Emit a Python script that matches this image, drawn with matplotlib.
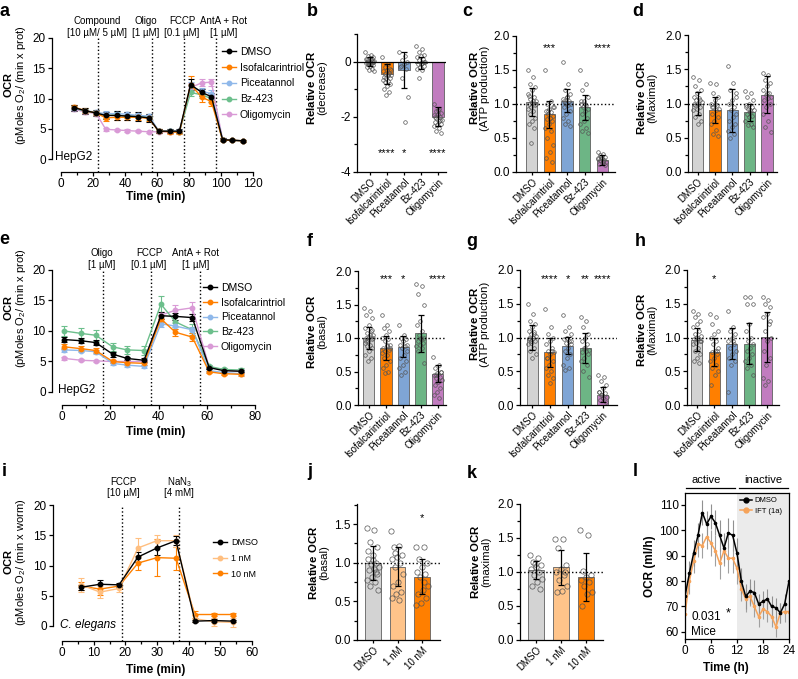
import matplotlib
matplotlib.use('Agg')
import matplotlib.pyplot as plt
from matplotlib.lines import Line2D
from matplotlib.ticker import FormatStrFormatter
import numpy as np

plt.rcParams['font.family'] = ['Liberation Sans', 'DejaVu Sans']
plt.rcParams['mathtext.fontset'] = 'custom'
plt.rcParams['mathtext.rm'] = 'Liberation Sans'
plt.rcParams['mathtext.bf'] = 'Liberation Sans:bold'
plt.rcParams['mathtext.default'] = 'regular'
plt.rcParams['axes.unicode_minus'] = False
plt.rcParams['axes.linewidth'] = 0.9

# ---------------- data ----------------
GROUPS = ['DMSO', 'Isofalcarintriol', 'Piceatannol', 'Bz-423', 'Oligomycin']
GROUPS_W = ['DMSO', '1 nM', '10 nM']

# panel a: HepG2 time course (compound injected first)
t_a = [8, 15, 22, 28, 35, 41, 48, 55, 61, 68, 74, 81, 88, 94, 101, 107, 114]
a_dmso = [8.5, 8.0, 7.6, 7.2, 7.2, 7.1, 7.0, 6.8, 4.6, 4.6, 4.6, 12.3, 11.0, 10.3, 3.2, 3.1, 3.0]
a_iso = [8.6, 8.0, 7.6, 6.8, 6.9, 6.9, 6.9, 6.7, 4.6, 4.5, 4.4, 12.3, 10.2, 9.5, 3.1, 3.1, 3.0]
a_pic = [8.4, 8.0, 7.7, 7.5, 7.5, 7.4, 7.2, 7.1, 4.7, 4.6, 4.6, 12.0, 11.2, 10.8, 3.2, 3.1, 3.0]
a_bz = [8.4, 7.9, 7.6, 7.2, 7.3, 7.1, 7.1, 6.9, 4.6, 4.6, 4.5, 11.0, 10.6, 10.0, 3.1, 3.1, 3.0]
a_oli = [8.2, 7.8, 7.5, 4.9, 4.8, 4.7, 4.6, 4.5, 4.5, 4.5, 4.5, 11.8, 12.6, 12.7, 3.2, 3.1, 3.0]
a_dmso_e = [0.5, 0.5, 0.5, 0.6, 0.7, 0.7, 0.7, 0.7, 0.3, 0.3, 0.3, 0.9, 0.6, 0.6, 0.3, 0.2, 0.2]
a_iso_e = [0.4, 0.4, 0.4, 0.5, 0.5, 0.5, 0.5, 0.5, 0.3, 0.3, 0.3, 1.4, 0.8, 0.8, 0.2, 0.2, 0.2]
a_pic_e = [0.3, 0.3, 0.3, 0.4, 0.4, 0.4, 0.4, 0.4, 0.2, 0.2, 0.2, 0.8, 0.5, 0.6, 0.2, 0.2, 0.2]
a_bz_e = [0.3, 0.3, 0.3, 0.4, 0.4, 0.4, 0.4, 0.4, 0.2, 0.2, 0.2, 0.6, 0.5, 0.5, 0.2, 0.2, 0.2]
a_oli_e = [0.3, 0.3, 0.3, 0.2, 0.2, 0.2, 0.2, 0.2, 0.2, 0.2, 0.2, 0.8, 0.6, 0.6, 0.2, 0.2, 0.2]

# panel e: HepG2 time course (pre-treated)
t_e = [1, 8, 14, 21, 27, 34, 41, 47, 54, 61, 67, 74]
e_dmso = [8.6, 8.4, 8.1, 6.2, 5.5, 5.2, 12.5, 12.4, 12.2, 4.0, 3.5, 3.4]
e_iso = [7.4, 7.1, 6.8, 5.0, 4.8, 4.7, 12.0, 9.8, 9.0, 3.3, 3.0, 2.9]
e_pic = [6.9, 6.8, 6.6, 4.7, 4.4, 4.2, 11.2, 10.8, 10.2, 3.5, 3.2, 3.0]
e_bz = [10.0, 9.6, 9.3, 7.4, 6.9, 6.8, 14.4, 11.5, 10.2, 4.2, 3.7, 3.6]
e_oli = [5.5, 5.2, 5.1, 5.0, 5.0, 5.0, 12.6, 13.4, 13.8, 4.1, 3.6, 3.4]
e_dmso_e = [0.4, 0.4, 0.4, 0.4, 0.3, 0.3, 0.6, 0.6, 0.6, 0.3, 0.2, 0.2]
e_iso_e = [0.4, 0.4, 0.4, 0.3, 0.3, 0.3, 0.6, 0.6, 0.6, 0.2, 0.2, 0.2]
e_pic_e = [0.3, 0.3, 0.3, 0.3, 0.3, 0.3, 0.5, 0.5, 0.5, 0.2, 0.2, 0.2]
e_bz_e = [0.9, 0.9, 0.9, 0.7, 0.7, 0.7, 1.3, 0.9, 0.9, 0.3, 0.3, 0.3]
e_oli_e = [0.3, 0.2, 0.2, 0.2, 0.2, 0.2, 0.5, 0.8, 1.0, 0.3, 0.3, 0.3]

# panel i: C. elegans time course
t_i = [6, 12, 18, 24, 30, 36, 42, 48, 54]
i_dmso = [6.4, 6.9, 6.8, 11.4, 12.9, 14.1, 0.8, 0.9, 0.8]
i_1nm = [6.8, 5.6, 6.2, 12.9, 14.1, 14.1, 1.2, 0.7, 0.6]
i_10nm = [6.6, 6.1, 6.6, 10.4, 11.3, 11.2, 1.9, 1.9, 1.9]
i_dmso_e = [0.4, 0.7, 0.3, 0.8, 1.2, 0.7, 0.2, 0.3, 0.2]
i_1nm_e = [1.2, 1.0, 0.5, 1.7, 1.0, 1.0, 0.6, 0.7, 0.7]
i_10nm_e = [0.6, 0.9, 0.3, 1.2, 3.0, 1.9, 0.5, 0.3, 0.3]

# panel b: relative OCR decrease
b_mean = [0.0, -0.45, -0.3, -0.05, -2.0]
b_sd = [0.15, 0.35, 0.65, 0.2, 0.35]
b_pts = [
    [0.35, 0.25, 0.2, 0.15, 0.12, 0.1, 0.08, 0.05, 0.03, 0.0, 0.0, -0.02, -0.05, -0.05, -0.08,
     -0.1, -0.12, -0.15, -0.2, -0.25, -0.3, -0.35, 0.05, 0.1, -0.03],
    [0.15, -0.1, -0.2, -0.25, -0.3, -0.35, -0.4, -0.45, -0.5, -0.5, -0.55, -0.6, -0.6, -0.65,
     -0.7, -0.75, -0.8, -0.9, -1.0, -1.1, -1.2, -0.3, -0.45],
    [0.35, 0.2, 0.05, 0.0, -0.1, -0.2, -0.25, -0.6, -1.3, -2.2, -0.15],
    [0.55, 0.45, 0.35, 0.25, 0.2, 0.15, 0.1, 0.05, 0.0, -0.05, -0.1, -0.15, -0.2, -0.25, -0.3,
     -0.6, 0.0, -0.1],
    [-1.55, -1.7, -1.8, -1.85, -1.9, -1.95, -2.0, -2.05, -2.1, -2.15, -2.2, -2.25, -2.3, -2.35,
     -2.4, -2.5, -2.6, -1.75, -2.0, -2.1],
]
b_stars = ['', '****', '*', '', '****']

# panel c: ATP production (acute)
c_mean = [1.03, 0.85, 1.05, 0.95, 0.18]
c_sd = [0.21, 0.2, 0.17, 0.18, 0.07]
c_pts = [
    [1.5, 1.4, 1.3, 1.25, 1.2, 1.15, 1.1, 1.08, 1.05, 1.02, 1.0, 0.98, 0.95, 0.92, 0.9, 0.85,
     0.8, 0.75, 0.7, 0.65, 0.42, 1.0, 1.05, 1.12],
    [1.5, 1.05, 1.0, 0.95, 0.92, 0.9, 0.88, 0.85, 0.82, 0.8, 0.78, 0.75, 0.7, 0.65, 0.6, 0.5,
     0.4, 0.3, 0.2, 0.15, 0.9, 0.95],
    [1.62, 1.3, 1.2, 1.15, 1.1, 1.08, 1.05, 1.02, 1.0, 0.98, 0.95, 0.9, 0.85, 0.8, 0.75, 0.7,
     0.68, 1.1, 1.05],
    [1.5, 1.3, 1.2, 1.1, 1.05, 1.0, 0.98, 0.95, 0.92, 0.9, 0.85, 0.8, 0.75, 0.7, 0.65, 0.6,
     0.58, 1.0, 1.05],
    [0.3, 0.27, 0.25, 0.22, 0.2, 0.2, 0.18, 0.17, 0.15, 0.14, 0.12, 0.1, 0.22, 0.19, 0.16],
]
c_stars = ['', '***', '', '', '****']

# panel d: maximal (acute)
d_mean = [1.0, 0.91, 0.9, 0.87, 1.13]
d_sd = [0.17, 0.19, 0.31, 0.13, 0.27]
d_pts = [
    [1.38, 1.35, 1.25, 1.2, 1.15, 1.1, 1.08, 1.05, 1.02, 1.0, 0.98, 0.95, 0.92, 0.9, 0.85, 0.8,
     0.75, 0.7, 1.0, 1.05],
    [1.3, 1.28, 1.15, 1.1, 1.05, 1.0, 0.98, 0.95, 0.92, 0.9, 0.85, 0.8, 0.75, 0.7, 0.62, 0.55,
     0.52, 1.0, 0.95],
    [1.55, 1.3, 1.2, 1.1, 1.05, 1.0, 0.95, 0.9, 0.85, 0.8, 0.75, 0.7, 0.65, 0.6, 0.55, 0.5, 1.15],
    [1.18, 1.15, 1.1, 1.05, 1.0, 0.98, 0.95, 0.92, 0.9, 0.88, 0.85, 0.82, 0.8, 0.75, 0.7, 0.68,
     0.65, 0.9, 0.95],
    [1.45, 1.42, 1.35, 1.3, 1.25, 1.2, 1.15, 1.12, 1.1, 1.08, 1.05, 1.0, 0.95, 0.85, 0.75, 0.65,
     0.58, 1.15],
]
d_stars = ['', '', '', '', '']

# panel f: basal (pre-treated)
f_mean = [1.0, 0.85, 0.87, 1.07, 0.47]
f_sd = [0.17, 0.18, 0.16, 0.28, 0.13]
f_pts = [
    [1.45, 1.4, 1.35, 1.3, 1.2, 1.15, 1.1, 1.08, 1.05, 1.02, 1.0, 0.98, 0.95, 0.92, 0.9, 0.88,
     0.85, 0.8, 0.75, 0.7, 0.65, 1.0, 1.05, 0.95, 1.12],
    [1.35, 1.2, 1.15, 1.1, 1.05, 1.0, 0.98, 0.95, 0.9, 0.88, 0.85, 0.82, 0.8, 0.78, 0.75, 0.7,
     0.65, 0.6, 0.55, 0.5, 0.48, 0.85, 0.9],
    [1.2, 1.05, 1.0, 0.98, 0.95, 0.9, 0.88, 0.85, 0.8, 0.75, 0.7, 0.65, 0.6, 0.55, 0.5, 0.45, 0.9],
    [1.8, 1.78, 1.65, 1.5, 1.25, 1.2, 1.1, 1.05, 1.0, 0.98, 0.95, 0.92, 0.9, 0.88, 0.85, 0.8,
     0.62, 1.0],
    [0.72, 0.6, 0.55, 0.5, 0.48, 0.45, 0.42, 0.4, 0.38, 0.35, 0.3, 0.25, 0.2, 0.15, 0.1, 0.45, 0.5],
]
f_stars = ['', '***', '*', '', '****']

# panel g: ATP production (pre-treated)
g_mean = [1.0, 0.78, 0.88, 0.84, 0.15]
g_sd = [0.18, 0.22, 0.13, 0.22, 0.11]
g_pts = [
    [1.5, 1.35, 1.25, 1.2, 1.15, 1.1, 1.08, 1.05, 1.02, 1.0, 0.98, 0.95, 0.92, 0.9, 0.85, 0.8,
     0.75, 0.7, 1.0, 1.05, 0.95],
    [1.42, 1.15, 1.05, 1.0, 0.95, 0.9, 0.85, 0.8, 0.78, 0.75, 0.7, 0.65, 0.6, 0.55, 0.5, 0.45,
     0.4, 0.32, 0.7, 0.8],
    [1.33, 1.15, 1.1, 1.05, 1.0, 0.98, 0.95, 0.92, 0.9, 0.85, 0.8, 0.75, 0.7, 0.6, 0.55, 0.52, 0.95],
    [1.3, 1.25, 1.15, 1.05, 1.0, 0.95, 0.9, 0.85, 0.82, 0.8, 0.78, 0.75, 0.7, 0.65, 0.6, 0.5,
     0.42, 0.85],
    [0.45, 0.42, 0.35, 0.3, 0.25, 0.2, 0.18, 0.15, 0.12, 0.1, 0.08, 0.05, 0.15, 0.2],
]
g_stars = ['', '****', '*', '**', '****']

# panel h: maximal (pre-treated)
h_mean = [0.97, 0.79, 0.91, 0.91, 1.01]
h_sd = [0.17, 0.21, 0.23, 0.3, 0.37]
h_pts = [
    [1.4, 1.35, 1.3, 1.25, 1.2, 1.15, 1.1, 1.05, 1.02, 1.0, 0.98, 0.95, 0.92, 0.9, 0.85, 0.8,
     0.75, 0.7, 0.65, 0.62, 1.0, 0.95],
    [1.35, 1.3, 1.2, 1.1, 1.05, 1.0, 0.95, 0.9, 0.85, 0.8, 0.78, 0.75, 0.7, 0.65, 0.6, 0.55,
     0.5, 0.45, 0.3, 0.8],
    [1.4, 1.15, 1.1, 1.05, 1.0, 0.95, 0.9, 0.85, 0.8, 0.75, 0.7, 0.65, 0.6, 0.2, 0.95],
    [1.6, 1.6, 1.5, 1.5, 1.2, 1.1, 1.0, 0.95, 0.9, 0.85, 0.8, 0.75, 0.7, 0.65, 0.6, 0.55, 0.45],
    [1.6, 1.55, 1.5, 1.45, 1.35, 1.3, 1.2, 1.1, 1.0, 0.95, 0.8, 0.7, 0.6, 0.4, 0.35, 0.3, 1.25],
]
h_stars = ['', '*', '', '', '']

# panel j / k: worms
j_mean = [1.0, 0.95, 0.82]
j_sd = [0.22, 0.25, 0.23]
j_pts = [
    [1.45, 1.43, 1.27, 1.2, 1.1, 1.05, 1.0, 0.98, 0.95, 0.92, 0.9, 0.85, 0.82, 0.78, 0.75, 0.7,
     0.65, 1.03, 1.15, 0.88],
    [1.41, 1.22, 1.2, 1.1, 1.08, 1.05, 1.0, 0.95, 0.85, 0.75, 0.7, 0.62, 0.6, 0.55, 0.52, 1.12],
    [1.2, 1.2, 1.05, 1.0, 0.95, 0.88, 0.85, 0.82, 0.7, 0.65, 0.6, 0.55, 0.48, 0.45, 0.75],
]
j_stars = ['', '', '*']
k_mean = [1.03, 1.07, 0.93]
k_sd = [0.13, 0.26, 0.35]
k_pts = [
    [1.25, 1.2, 1.15, 1.1, 1.08, 1.05, 1.0, 0.95, 0.9, 0.85, 0.8, 0.75, 1.12],
    [1.48, 1.48, 1.35, 1.1, 1.05, 1.0, 0.95, 0.88, 0.8, 0.72, 0.7, 1.0],
    [1.62, 1.55, 1.02, 0.95, 0.92, 0.88, 0.85, 0.8, 0.7, 0.68, 0.5],
]
k_stars = ['', '', '']

# panel l: mice, hourly OCR
t_l = list(range(25))
l_dmso = [74, 83, 91, 98, 107, 102.5, 105.5, 103, 98, 93, 99, 98, 91, 80, 74, 76, 75.5, 71,
          72, 73, 70, 69.5, 67.5, 71, 80]
l_ift = [67, 80, 88, 94.5, 94, 97.5, 95, 92, 87, 92, 89, 89, 85, 77, 73, 74, 70, 66, 69, 68,
         66, 62, 67.5, 68, 68]
l_dmso_e = [6, 5, 5, 5, 5, 5, 5, 5, 6, 6, 6, 6, 6, 5, 5, 5, 5, 4, 4, 4, 4, 4, 4, 4, 5]
l_ift_e = [6, 5, 5, 5, 5, 5, 5, 6, 6, 6, 6, 6, 6, 5, 5, 4, 4, 4, 4, 4, 4, 4, 4, 4, 4]

# ---------------- style ----------------
BAR5 = ['#d3d3d3', '#ff7f00', '#7fa5d5', '#6db585', '#c17cbf']
LINE5 = ['black', '#ff7f00', '#8fb8ea', '#6cbf8c', '#d99ad6']
BAR3 = ['#d3d3d3', '#ffc48a', '#ff7f00']
LINE3 = ['black', '#ffbf80', '#ff8000']
IFT_C = '#f6a35a'

W, H = 798, 679
fig = plt.figure(figsize=(W / 100, H / 100), dpi=100)


def box(x0, y0, x1, y1):
    ax = fig.add_axes([x0 / W, 1 - y1 / H, (x1 - x0) / W, (y1 - y0) / H])
    ax.patch.set_visible(False)
    return ax


def style(ax):
    for s in ['top', 'right']:
        ax.spines[s].set_visible(False)
    ax.tick_params(direction='out', length=3, width=0.9, labelsize=8.5, pad=1.5)
    ax.tick_params(which='minor', direction='out', length=2, width=0.9)


def tc_axes(bx, xmax, xmaj, xmin, left_out, bot_out, vlines):
    ax = box(*bx)
    style(ax)
    ax.set_xlim(0, xmax)
    ax.set_ylim(0, 20)
    ax.spines['left'].set_position(('outward', left_out * 0.72))
    ax.spines['bottom'].set_position(('outward', bot_out * 0.72))
    ax.spines['left'].set_bounds(0, 20)
    ax.spines['bottom'].set_bounds(0, xmax)
    ax.set_xticks(np.arange(0, xmax + 1, xmaj))
    ax.set_xticks(np.arange(0, xmax + 1, xmin), minor=True)
    ax.set_yticks([0, 5, 10, 15, 20])
    hgt = bx[3] - bx[1]
    for v in vlines:
        ax.axvline(v, ymin=-bot_out / hgt, ymax=1.0, ls=':', color='k', lw=1.0, clip_on=False)
    return ax


def tc_series(ax, t, ys, es, colors):
    # draw in reverse so DMSO ends on top
    for y, e, c in list(zip(ys, es, colors))[::-1]:
        ax.errorbar(t, y, yerr=e, color=c, marker='o', ms=3.2, lw=1.0, elinewidth=0.8,
                    capsize=2, capthick=0.8, clip_on=False)


def bar_axes(bx, xlim, ylim, means, sds, pts, colors, width, ms, stars, star_y, labels,
             major, minor, refline=1.0):
    ax = box(*bx)
    style(ax)
    x = np.arange(len(means))
    ax.bar(x, means, width, color=colors, edgecolor='#606060', lw=0.6, zorder=1)
    for i, p in enumerate(pts):
        n = len(p)
        offs = ((np.arange(n) * 0.618) % 1 - 0.5) * width * 0.8
        ax.plot(x[i] + offs, p, 'o', mfc='none', mec='#555555', ms=ms, mew=0.5, zorder=3,
                clip_on=False)
    ax.errorbar(x, means, yerr=sds, fmt='none', ecolor='k', elinewidth=0.9, capsize=2.5,
                capthick=0.9, zorder=4)
    if refline is not None:
        ax.axhline(refline, ls=':', color='k', lw=1.0, zorder=5)
    for i, s in enumerate(stars):
        if s:
            ax.text(x[i], star_y, s, ha='center', va='center', fontsize=8)
    ax.set_xlim(*xlim)
    ax.set_ylim(*ylim)
    ax.set_yticks(major)
    ax.set_yticks(minor, minor=True)
    ax.set_xticks(x)
    ax.set_xticklabels(labels, rotation=45, ha='right', rotation_mode='anchor', fontsize=7)
    ax.tick_params(axis='x', length=2)
    return ax


def leg(ax, colors, labels, x, y, fs, spacing, hl=1.3):
    hs = [Line2D([], [], color=c, marker='o', ms=3.2, lw=1.0) for c in colors]
    ax.legend(hs, labels, loc='upper left', bbox_to_anchor=(x / W, 1 - y / H),
              bbox_transform=fig.transFigure, frameon=False, fontsize=fs, handlelength=hl,
              handletextpad=0.4, labelspacing=spacing, borderpad=0, borderaxespad=0)


# ---------------- panel a ----------------
ax_a = tc_axes((61, 38, 253, 159), 120, 20, 10, 9, 13, [23, 57, 77, 97])
tc_series(ax_a, t_a, [a_dmso, a_iso, a_pic, a_bz, a_oli],
          [a_dmso_e, a_iso_e, a_pic_e, a_bz_e, a_oli_e], LINE5)
leg(ax_a, LINE5, GROUPS, 222, 47, 7.5, 0.55)

# ---------------- panel e ----------------
ax_e = tc_axes((62, 270, 255, 392), 80, 20, 10, 10, 13, [17, 37, 57])
tc_series(ax_e, t_e, [e_dmso, e_iso, e_pic, e_bz, e_oli],
          [e_dmso_e, e_iso_e, e_pic_e, e_bz_e, e_oli_e], LINE5)
leg(ax_e, LINE5, GROUPS, 203, 283, 7.5, 0.45)

# ---------------- panel i ----------------
ax_i = tc_axes((62, 505, 252, 626), 60, 10, 5, 9, 15, [19, 37])
tc_series(ax_i, t_i, [i_dmso, i_1nm, i_10nm], [i_dmso_e, i_1nm_e, i_10nm_e], LINE3)
leg(ax_i, LINE3, GROUPS_W, 213, 538, 6.5, 0.75, hl=1.6)

# ---------------- bar panels ----------------
tick1 = [0.0, 0.5, 1.0, 1.5, 2.0]
minor1 = [0.25, 0.75, 1.25, 1.75]
ax_b = bar_axes((357, 34, 446, 172), (-0.76, 4.47), (-4, 1), b_mean, b_sd, b_pts, BAR5, 0.66,
                2.6, b_stars, -3.33, GROUPS, [-4, -2, 0], [-3, -1, 1], refline=None)
ax_b.axhline(0, color='k', lw=0.9, zorder=5)
ax_b.yaxis.set_major_formatter(FormatStrFormatter('%d'))

ax_c = bar_axes((516, 36, 615, 172), (-0.91, 4.74), (0, 2), c_mean, c_sd, c_pts, BAR5, 0.63,
                2.6, c_stars, 1.82, GROUPS, tick1, minor1)
ax_d = bar_axes((688, 35, 777, 172), (-0.55, 4.57), (0, 2), d_mean, d_sd, d_pts, BAR5, 0.65,
                2.6, d_stars, 1.85, GROUPS, tick1, minor1)
ax_f = bar_axes((358, 271, 446, 405), (-0.63, 4.48), (0, 2), f_mean, f_sd, f_pts, BAR5, 0.65,
                2.6, f_stars, 1.88, GROUPS, tick1, minor1)
ax_g = bar_axes((520, 270, 617, 405), (-0.69, 4.8), (0, 2), g_mean, g_sd, g_pts, BAR5, 0.63,
                2.6, g_stars, 1.86, GROUPS, tick1, minor1)
ax_h = bar_axes((687, 270, 779, 405), (-0.57, 4.69), (0, 2), h_mean, h_sd, h_pts, BAR5, 0.63,
                2.6, h_stars, 1.87, GROUPS, tick1, minor1)
ax_j = bar_axes((357, 504, 440, 640), (-0.65, 2.73), (0, 1.76), j_mean, j_sd, j_pts, BAR3, 0.65,
                3.8, j_stars, 1.58, GROUPS_W, [0.0, 0.5, 1.0, 1.5], [0.25, 0.75, 1.25, 1.75])
ax_k = bar_axes((520, 504, 603, 640), (-0.64, 2.68), (0, 2), k_mean, k_sd, k_pts, BAR3, 0.65,
                3.8, k_stars, 1.85, GROUPS_W, tick1, minor1)
for ax in [ax_c, ax_d, ax_f, ax_g, ax_h, ax_j, ax_k]:
    ax.yaxis.set_major_formatter(FormatStrFormatter('%.1f'))

# ---------------- panel l ----------------
ax_l = box(685, 493, 789, 639)
ax_l.tick_params(direction='out', length=3, width=0.9, labelsize=8.5, pad=1.5)
ax_l.axvspan(12, 24, color='#ebebeb', lw=0, zorder=0)
ax_l.errorbar(t_l, l_ift, yerr=l_ift_e, fmt='none', ecolor='#a0a0a0', elinewidth=0.8, zorder=1)
ax_l.errorbar(t_l, l_dmso, yerr=l_dmso_e, fmt='none', ecolor='#909090', elinewidth=0.8, zorder=1)
ax_l.plot(t_l, l_ift, color=IFT_C, marker='o', ms=1.6, lw=1.1, zorder=2)
ax_l.plot(t_l, l_dmso, color='black', marker='o', ms=1.6, lw=1.1, zorder=3)
ax_l.set_xlim(0, 24)
ax_l.set_ylim(57.2, 114.7)
ax_l.set_xticks([0, 6, 12, 18, 24])
ax_l.set_yticks([60, 70, 80, 90, 100, 110])
lh = [Line2D([], [], color='black', marker='o', ms=3.5, lw=1.1),
      Line2D([], [], color=IFT_C, marker='o', ms=3.5, lw=1.1)]
ax_l.legend(lh, ['DMSO', 'IFT (1a)'], loc='upper left', bbox_to_anchor=(740 / W, 1 - 497 / H),
            bbox_transform=fig.transFigure, frameon=False, fontsize=5.5, handlelength=1.6,
            handletextpad=0.3, labelspacing=0.4, borderpad=0, borderaxespad=0)
tr = ax_l.get_xaxis_transform()
ax_l.plot([0.3, 11.6], [1.035, 1.035], color='k', lw=0.9, transform=tr, clip_on=False)
ax_l.plot([12.4, 23.7], [1.035, 1.035], color='k', lw=0.9, transform=tr, clip_on=False)

# ---------------- overlay text ----------------
ov = fig.add_axes([0, 0, 1, 1])
ov.set_xlim(0, W)
ov.set_ylim(H, 0)
ov.axis('off')


def T(x, y, s, **kw):
    kw.setdefault('ha', 'center')
    kw.setdefault('va', 'center')
    ov.text(x, y, s, **kw)


def ylab2(x, y, bold, sub, fs=8.2):
    # bold first line + regular second line in one text block
    T(x, y, r'$\bf{%s}$' % bold.replace(' ', r'\ ') + '\n' + sub, rotation=90,
      fontsize=fs, linespacing=0.95)


for lt, x, y in [('a', 5, 12), ('b', 312, 12), ('c', 467, 12), ('d', 638, 12),
                 ('e', 4, 239), ('f', 310, 242), ('g', 472, 242), ('h', 640, 241),
                 ('i', 4, 471), ('j', 310, 472), ('k', 472, 474), ('l', 635, 472)]:
    T(x, y, lt, fontsize=13, fontweight='bold')

# time-course y labels
for yc, unit in [(85, 'prot'), (308, 'prot'), (562, 'worm')]:
    ylab2(15, yc, 'OCR', '(pMoles O$_2$/ (min x %s)' % unit, fs=8)
for y in [197, 432, 670]:
    T(156, y, 'Time (min)', fontsize=8.5, fontweight='bold')
T(726, 668, 'Time (h)', fontsize=8.5, fontweight='bold')
T(650, 566, 'OCR (ml/h)', rotation=90, fontsize=8.5, fontweight='bold')

# bar y labels
for x, y, sub in [(316, 88, '(decrease)'), (479, 88, '(ATP production)'),
                  (646, 98, '(Maximal)'), (316, 332, '(basal)'),
                  (479, 324, '(ATP production)'), (646, 330, '(Maximal)'),
                  (318, 563, '(basal)'), (480, 562, '(maximal)')]:
    ylab2(x, y, 'Relative OCR', sub)

# injection annotations
for x, y, s in [(97, 21, 'Compound'), (97, 33, '[10 µM/ 5 µM]'), (146, 21, 'Oligo'),
                (146, 33, '[1 µM]'), (182, 21, 'FCCP'), (182, 33, '[0.1 µM]'),
                (224, 21, 'AntA + Rot'), (224, 33, '[1 µM]'),
                (102, 253, 'Oligo'), (102, 265, '[1 µM]'), (149, 253, 'FCCP'),
                (149, 265, '[0.1 µM]'), (196, 253, 'AntA + Rot'), (196, 265, '[1 µM]'),
                (123, 482, 'FCCP'), (123, 493, '[10 µM]'), (180, 482, 'NaN$_3$'),
                (179, 493, '[4 mM]')]:
    T(x, y, s, fontsize=7)

T(55, 157, 'HepG2', ha='left', fontsize=8.5)
T(58, 390, 'HepG2', ha='left', fontsize=8.5)
T(60, 625, 'C. elegans', ha='left', fontsize=8.5, style='italic')
T(706, 480, 'active', fontsize=8)
T(763, 480, 'inactive', fontsize=8)
T(691, 617, '0.031', ha='left', fontsize=8.5)
T(728, 613, '*', fontsize=9)
T(691, 632, 'Mice', ha='left', fontsize=8.5)

fig.savefig('out.png', dpi=100)
